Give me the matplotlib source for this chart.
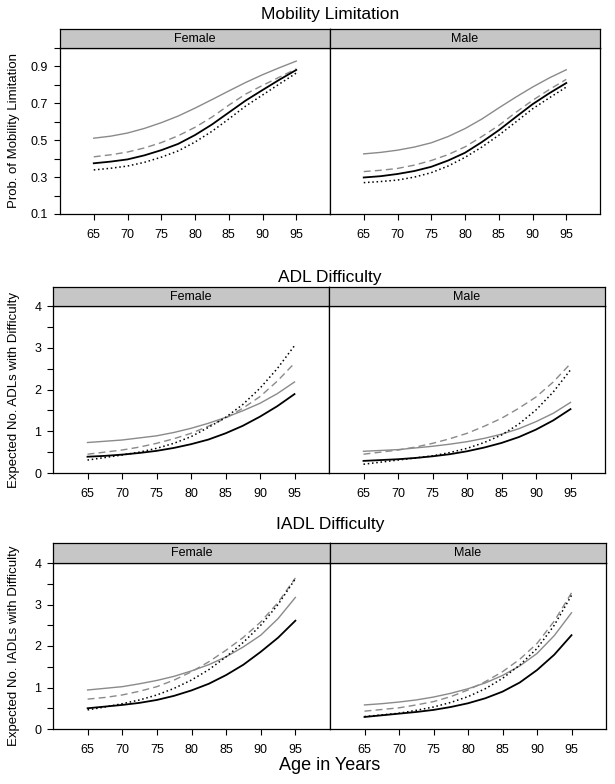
import matplotlib
matplotlib.use("Agg")
import matplotlib.pyplot as plt

plt.rcParams['font.family'] = ['Liberation Sans', 'DejaVu Sans']

ages = [65, 67.5, 70, 72.5, 75, 77.5, 80, 82.5, 85, 87.5, 90, 92.5, 95]
xticks = [65, 70, 75, 80, 85, 90, 95]

# Mobility limitation (probability)
mob_f_black = [0.375, 0.384, 0.396, 0.418, 0.446, 0.48, 0.528, 0.585, 0.65, 0.715, 0.772, 0.828, 0.881]
mob_f_gray = [0.511, 0.522, 0.539, 0.564, 0.595, 0.631, 0.674, 0.72, 0.767, 0.813, 0.855, 0.893, 0.929]
mob_f_dash = [0.41, 0.421, 0.436, 0.458, 0.487, 0.524, 0.57, 0.625, 0.69, 0.75, 0.797, 0.842, 0.887]
mob_f_dot = [0.339, 0.348, 0.36, 0.38, 0.408, 0.442, 0.49, 0.548, 0.615, 0.685, 0.745, 0.805, 0.864]
mob_m_black = [0.298, 0.305, 0.317, 0.333, 0.356, 0.39, 0.432, 0.49, 0.554, 0.625, 0.695, 0.755, 0.81]
mob_m_gray = [0.426, 0.434, 0.446, 0.463, 0.486, 0.52, 0.563, 0.615, 0.675, 0.733, 0.788, 0.838, 0.882]
mob_m_dash = [0.33, 0.337, 0.347, 0.365, 0.39, 0.422, 0.464, 0.52, 0.58, 0.65, 0.716, 0.775, 0.83]
mob_m_dot = [0.27, 0.276, 0.284, 0.30, 0.324, 0.36, 0.407, 0.463, 0.527, 0.598, 0.67, 0.73, 0.788]

# ADL difficulty (expected count)
adl_f_black = [0.39, 0.41, 0.44, 0.48, 0.53, 0.60, 0.69, 0.80, 0.95, 1.13, 1.35, 1.60, 1.89]
adl_f_gray = [0.73, 0.76, 0.79, 0.84, 0.89, 0.97, 1.07, 1.19, 1.33, 1.49, 1.67, 1.90, 2.18]
adl_f_dash = [0.45, 0.50, 0.55, 0.62, 0.71, 0.82, 0.95, 1.12, 1.31, 1.55, 1.83, 2.20, 2.63]
adl_f_dot = [0.31, 0.37, 0.43, 0.50, 0.59, 0.71, 0.87, 1.09, 1.33, 1.64, 2.03, 2.50, 3.05]
adl_m_black = [0.29, 0.31, 0.33, 0.36, 0.40, 0.45, 0.52, 0.61, 0.72, 0.86, 1.04, 1.26, 1.53]
adl_m_gray = [0.52, 0.54, 0.56, 0.60, 0.64, 0.69, 0.75, 0.83, 0.93, 1.06, 1.23, 1.43, 1.69]
adl_m_dash = [0.45, 0.50, 0.55, 0.62, 0.71, 0.82, 0.95, 1.12, 1.31, 1.55, 1.82, 2.18, 2.62]
adl_m_dot = [0.21, 0.26, 0.31, 0.36, 0.41, 0.49, 0.59, 0.73, 0.91, 1.17, 1.51, 1.94, 2.47]

# IADL difficulty (expected count)
iadl_f_black = [0.50, 0.54, 0.58, 0.63, 0.70, 0.80, 0.93, 1.09, 1.30, 1.55, 1.86, 2.20, 2.61]
iadl_f_gray = [0.94, 0.98, 1.02, 1.09, 1.17, 1.27, 1.40, 1.55, 1.74, 1.98, 2.26, 2.66, 3.17]
iadl_f_dash = [0.72, 0.76, 0.82, 0.91, 1.02, 1.18, 1.38, 1.62, 1.90, 2.21, 2.58, 3.05, 3.64]
iadl_f_dot = [0.46, 0.53, 0.61, 0.70, 0.82, 0.98, 1.18, 1.43, 1.74, 2.09, 2.50, 3.00, 3.62]
iadl_m_black = [0.29, 0.33, 0.37, 0.41, 0.46, 0.53, 0.62, 0.74, 0.90, 1.12, 1.42, 1.79, 2.26]
iadl_m_gray = [0.58, 0.61, 0.65, 0.70, 0.77, 0.86, 0.97, 1.11, 1.29, 1.52, 1.82, 2.25, 2.80]
iadl_m_dash = [0.43, 0.47, 0.51, 0.58, 0.66, 0.78, 0.94, 1.14, 1.38, 1.68, 2.06, 2.60, 3.28]
iadl_m_dot = [0.30, 0.34, 0.38, 0.45, 0.53, 0.64, 0.78, 0.97, 1.22, 1.54, 1.94, 2.50, 3.22]

W, H = 615, 784
fig = plt.figure(figsize=(W / 100, H / 100), dpi=100)

gray = '#8a8a8a'
strip_col = '#c6c6c6'

def box(x0, y0, x1, y1):
    # pixel box (top-left origin) -> figure fraction rect
    return [x0 / W, 1 - y1 / H, (x1 - x0) / W, (y1 - y0) / H]

def draw_lines(ax, black, gr, dash, dot):
    ax.plot(ages, gr, color=gray, lw=1.0, ls='-')
    ax.plot(ages, dash, color=gray, lw=1.0, ls=(0, (5, 3)))
    ax.plot(ages, black, color='black', lw=1.3, ls='-')
    ax.plot(ages, dot, color='black', lw=1.1, ls=(0, (1, 1.8)))

rows = [
    dict(title='Mobility Limitation', ty=15, ylabel='Prob. of Mobility Limitation',
         lx=60, mx=330, rx=600, st=29, top=48, bot=214, ylim=(0.1, 1.0),
         yt=[0.1, 0.3, 0.5, 0.7, 0.9], ytl=['0.1', '0.3', '0.5', '0.7', '0.9'],
         ymin=[0.2, 0.4, 0.6, 0.8, 1.0],
         f=(mob_f_black, mob_f_gray, mob_f_dash, mob_f_dot),
         m=(mob_m_black, mob_m_gray, mob_m_dash, mob_m_dot)),
    dict(title='ADL Difficulty', ty=277, ylabel='Expected No. ADLs with Difficulty',
         lx=53, mx=329, rx=605, st=287, top=306, bot=473, ylim=(0, 4),
         yt=[0, 1, 2, 3, 4], ytl=['0', '1', '2', '3', '4'],
         ymin=[0.5, 1.5, 2.5, 3.5],
         f=(adl_f_black, adl_f_gray, adl_f_dash, adl_f_dot),
         m=(adl_m_black, adl_m_gray, adl_m_dash, adl_m_dot)),
    dict(title='IADL Difficulty', ty=525, ylabel='Expected No. IADLs with Difficulty',
         lx=53, mx=330, rx=606, st=543, top=563, bot=729, ylim=(0, 4),
         yt=[0, 1, 2, 3, 4], ytl=['0', '1', '2', '3', '4'],
         ymin=[0.5, 1.5, 2.5, 3.5],
         f=(iadl_f_black, iadl_f_gray, iadl_f_dash, iadl_f_dot),
         m=(iadl_m_black, iadl_m_gray, iadl_m_dash, iadl_m_dot)),
]

for r in rows:
    fig.text(330 / W, 1 - r['ty'] / H, r['title'], ha='center', va='center', fontsize=12.5)
    fig.text(14 / W, 1 - (r['top'] + r['bot']) / 2 / H, r['ylabel'], rotation=90,
             ha='center', va='center', fontsize=9.5)
    for i, (x0, x1, name, series) in enumerate([(r['lx'], r['mx'], 'Female', r['f']),
                                                 (r['mx'], r['rx'], 'Male', r['m'])]):
        ax = fig.add_axes(box(x0, r['top'], x1, r['bot']))
        draw_lines(ax, *series)
        ax.set_xlim(60, 100)
        ax.set_ylim(*r['ylim'])
        ax.set_xticks(xticks)
        ax.set_xticklabels([str(a) for a in xticks], fontsize=9)
        ax.tick_params(axis='x', direction='out', length=4.5, width=0.8, pad=6, top=False)
        if i == 0:
            ax.set_yticks(r['yt'])
            ax.set_yticklabels(r['ytl'], fontsize=9)
            ax.set_yticks(r['ymin'], minor=True)
            ax.tick_params(axis='y', which='both', direction='out', length=4.5, width=0.8, pad=4)
        else:
            ax.set_yticks([])
        for sp in ax.spines.values():
            sp.set_linewidth(0.9)
        sax = fig.add_axes(box(x0, r['st'], x1, r['top']))
        sax.set_facecolor(strip_col)
        sax.set_xticks([])
        sax.set_yticks([])
        for sp in sax.spines.values():
            sp.set_linewidth(0.9)
        sax.text(0.5, 0.5, name, ha='center', va='center', fontsize=9, transform=sax.transAxes)

fig.text(330 / W, 1 - 766 / H, 'Age in Years', ha='center', va='center', fontsize=13)

fig.savefig('out.png', dpi=100)
